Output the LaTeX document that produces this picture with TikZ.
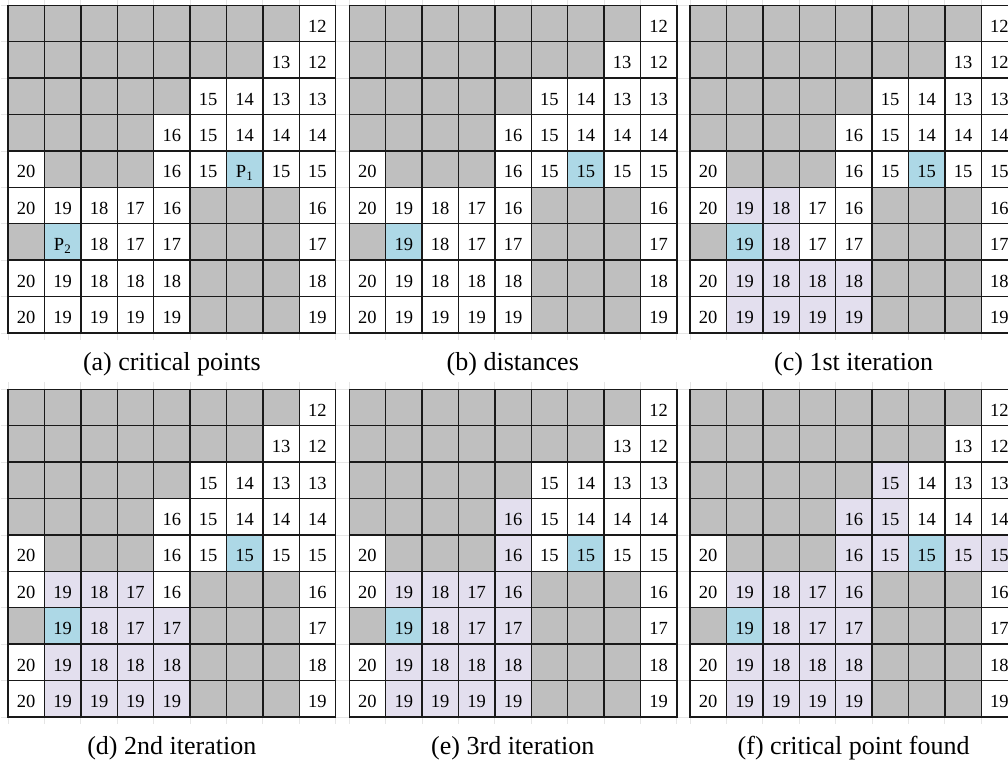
\documentclass[tikz,border=0pt]{standalone}
\usepackage{fontspec}
\setmainfont{Liberation Serif}
\definecolor{cgray}{RGB}{191,191,191}
\definecolor{cblue}{RGB}{173,216,230}
\definecolor{cpurp}{RGB}{227,223,238}
\tikzset{
 gl/.style={line width=1.4pt, draw=black!90, line cap=rect},
 ext/.style={line width=0.8pt, draw=black!10},
 num/.style={inner sep=0pt, text height=17.5pt, text depth=0pt, font=\fontsize{18.5}{22}\selectfont},
 captxt/.style={anchor=base, inner sep=0pt, font=\fontsize{26}{30}\selectfont},
}
\newcommand\gridpanel[6]{%
 \begin{scope}[xshift=#2pt, yshift=-#3pt, x=36.4pt, y=-36.4pt]
  \fill[white] (0,0) rectangle (9,9);
  \foreach \r/\a/\b in {0/0/7,1/0/6,2/0/4,3/0/3,4/1/3,5/5/7,6/5/7,7/5/7,8/5/7}
    \fill[cgray] (\a,\r) rectangle (\b+1,\r+1);
  \fill[cgray] (0,6) rectangle (1,7);
  \foreach \c/\r in {#4} \fill[cpurp] (\c,\r) rectangle (\c+1,\r+1);
  \fill[cblue] (6,4) rectangle (7,5);
  \fill[cblue] (1,6) rectangle (2,7);
  \foreach \i in {0,...,9} {\draw[ext] (\i,-0.2) -- (\i,9.2); \draw[ext] (-0.2,\i) -- (9.2,\i);}
  \foreach \i in {0,...,9} {\draw[gl] (\i,0) -- (\i,9); \draw[gl] (0,\i) -- (9,\i);}
  \foreach \c/\r/\t in {8/0/12,
     7/1/13,8/1/12,
     5/2/15,6/2/14,7/2/13,8/2/13,
     4/3/16,5/3/15,6/3/14,7/3/14,8/3/14,
     0/4/20,4/4/16,5/4/15,7/4/15,8/4/15,
     0/5/20,1/5/19,2/5/18,3/5/17,4/5/16,8/5/16,
     2/6/18,3/6/17,4/6/17,8/6/17,
     0/7/20,1/7/19,2/7/18,3/7/18,4/7/18,8/7/18,
     0/8/20,1/8/19,2/8/19,3/8/19,4/8/19,8/8/19}
    \node[num] (#1-\c-\r) at (\c+0.5,\r+0.5) {\t};
  \node[num] (#1-6-4) at (6.5,4.5) {#5};
  \node[num] (#1-1-6) at (1.5,6.5) {#6};
 \end{scope}
}
\begin{document}
\begin{tikzpicture}
\useasboundingbox (0,0) rectangle (1008pt,-769pt);
\clip (0,0) rectangle (1008pt,-769pt);
\gridpanel{a}{8}{5.3}{1/6}{P\textsubscript{1}}{P\textsubscript{2}}
\gridpanel{b}{349.2}{5.3}{1/6}{15}{19}
\gridpanel{c}{690}{5.3}{1/5,2/5,2/6,1/7,2/7,3/7,4/7,1/8,2/8,3/8,4/8}{15}{19}
\gridpanel{d}{8}{389.3}{1/5,2/5,2/6,1/7,2/7,3/7,4/7,1/8,2/8,3/8,4/8,3/5,3/6,4/6}{15}{19}
\gridpanel{e}{349.2}{389.3}{1/5,2/5,2/6,1/7,2/7,3/7,4/7,1/8,2/8,3/8,4/8,3/5,3/6,4/6,4/3,4/4,4/5}{15}{19}
\gridpanel{f}{690}{389.3}{1/5,2/5,2/6,1/7,2/7,3/7,4/7,1/8,2/8,3/8,4/8,3/5,3/6,4/6,4/3,4/4,4/5,5/2,5/3,5/4,7/4,8/4}{15}{19}
\node[captxt] (capa) at (171.8pt,-370pt) {(a) critical points};
\node[captxt] (capb) at (512.8pt,-370pt) {(b) distances};
\node[captxt] (capc) at (853.6pt,-370pt) {(c) 1st iteration};
\node[captxt] (capd) at (171.8pt,-754pt) {(d) 2nd iteration};
\node[captxt] (cape) at (512.8pt,-754pt) {(e) 3rd iteration};
\node[captxt] (capf) at (853.6pt,-754pt) {(f) critical point found};
\end{tikzpicture}
\end{document}
